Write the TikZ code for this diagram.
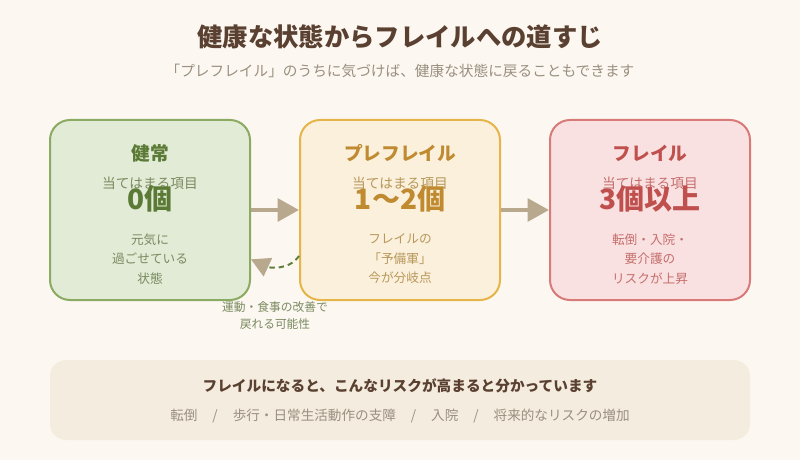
\documentclass[tikz,border=0pt]{standalone}
\usepackage{fontspec}
\setmainfont{Noto Sans CJK JP}
\usetikzlibrary{arrows.meta,positioning}
\definecolor{bgcream}{HTML}{FCF8F1}
\definecolor{titlebrown}{HTML}{5A4030}
\definecolor{subgray}{HTML}{9A8F80}
\definecolor{arrowtan}{HTML}{B8A88E}
\definecolor{backgreen}{HTML}{5F7F3A}
\definecolor{panelbeige}{HTML}{F4ECDF}
\definecolor{gfill}{HTML}{E2EBD6}
\definecolor{gdraw}{HTML}{8BAA62}
\definecolor{gmain}{HTML}{5A7A35}
\definecolor{gsub}{HTML}{7A8A60}
\definecolor{yfill}{HTML}{FAF0DC}
\definecolor{ydraw}{HTML}{E5B54A}
\definecolor{ymain}{HTML}{BF8A30}
\definecolor{ysub}{HTML}{B8975A}
\definecolor{rfill}{HTML}{FAE1E1}
\definecolor{rdraw}{HTML}{D87A78}
\definecolor{rmain}{HTML}{C0504D}
\definecolor{rsub}{HTML}{C46E6C}
\tikzstyle{stage}=[rounded corners=15pt, line width=1.5pt, minimum width=150pt, minimum height=135pt, inner sep=0pt]
\tikzstyle{flow}=[draw=arrowtan, line width=3pt, -{Triangle[length=16pt,width=17pt]}]
\tikzstyle{back}=[draw=backgreen, line width=1.5pt, dash pattern=on 4pt off 3pt, -{Triangle[length=14pt,width=15pt,color=arrowtan]}]
\tikzstyle{txt}=[inner sep=0pt, align=center]

\begin{document}
\begin{tikzpicture}[x=0.75pt, y=-0.75pt]

\fill[bgcream] (0,0) rectangle (800,460);

\node[txt, text=titlebrown, font=\fontsize{19}{22}\selectfont\bfseries] (title) at (400,37) {健康な状態からフレイルへの道すじ};
\node[txt, text=subgray, font=\fontsize{11}{13}\selectfont] (subtitle) at (400,71) {「プレフレイル」のうちに気づけば、健康な状態に戻ることもできます};

    % three stages
    \foreach \name/\cx/\fillc/\drawc/\mainc/\subc/\heading/\num/\note in {
        healthy/150/gfill/gdraw/gmain/gsub/{健常}/{0個}/{元気に\\過ごせている\\状態},
        pre/400/yfill/ydraw/ymain/ysub/{プレフレイル}/{1〜2個}/{フレイルの\\「予備軍」\\今が分岐点},
        frail/650/rfill/rdraw/rmain/rsub/{フレイル}/{3個以上}/{転倒・入院・\\要介護の\\リスクが上昇}}
    {
        \node[stage, fill=\fillc, draw=\drawc] (\name) at (\cx,210) {};
        \node[txt, text=\mainc, font=\fontsize{14}{16}\selectfont\bfseries] (\name-head) at (\cx,153) {\heading};
        \node[txt, text=\subc, font=\fontsize{10.3}{12}\selectfont] (\name-sub) at (\cx,183) {当てはまる項目};
        \node[txt, text=\mainc, font=\fontsize{21}{24}\selectfont\bfseries] (\name-num) at (\cx,199) {\num};
        \node[txt, text=\subc, font=\fontsize{9.5}{14.6}\selectfont] (\name-note) at (\cx,259) {\note};
    }

    \draw[flow] (healthy) -- (pre);
    \draw[flow] (pre) -- (frail);

    % way back
    \draw[back] ([yshift=-34.5pt]pre.west) to[out=-125, in=-25] ([yshift=-37pt]healthy.east);
\node[txt, text=gsub, font=\fontsize{8.8}{12.8}\selectfont] (backnote) at (275,316) {運動・食事の改善で\\戻れる可能性};

    % risks
    \fill[panelbeige, rounded corners=12pt] (50,360) rectangle (750,440);
\node[txt, text=titlebrown, font=\fontsize{11}{13}\selectfont\bfseries] (risk-head) at (400,386) {フレイルになると、こんなリスクが高まると分かっています};
\node[txt, text=subgray, font=\fontsize{10.2}{12}\selectfont] (risk-list) at (400,416) {転倒\hspace{1.1em}/\hspace{1.1em}歩行・日常生活動作の支障\hspace{1.1em}/\hspace{1.1em}入院\hspace{1.1em}/\hspace{1.1em}将来的なリスクの増加};

\end{tikzpicture}
\end{document}
